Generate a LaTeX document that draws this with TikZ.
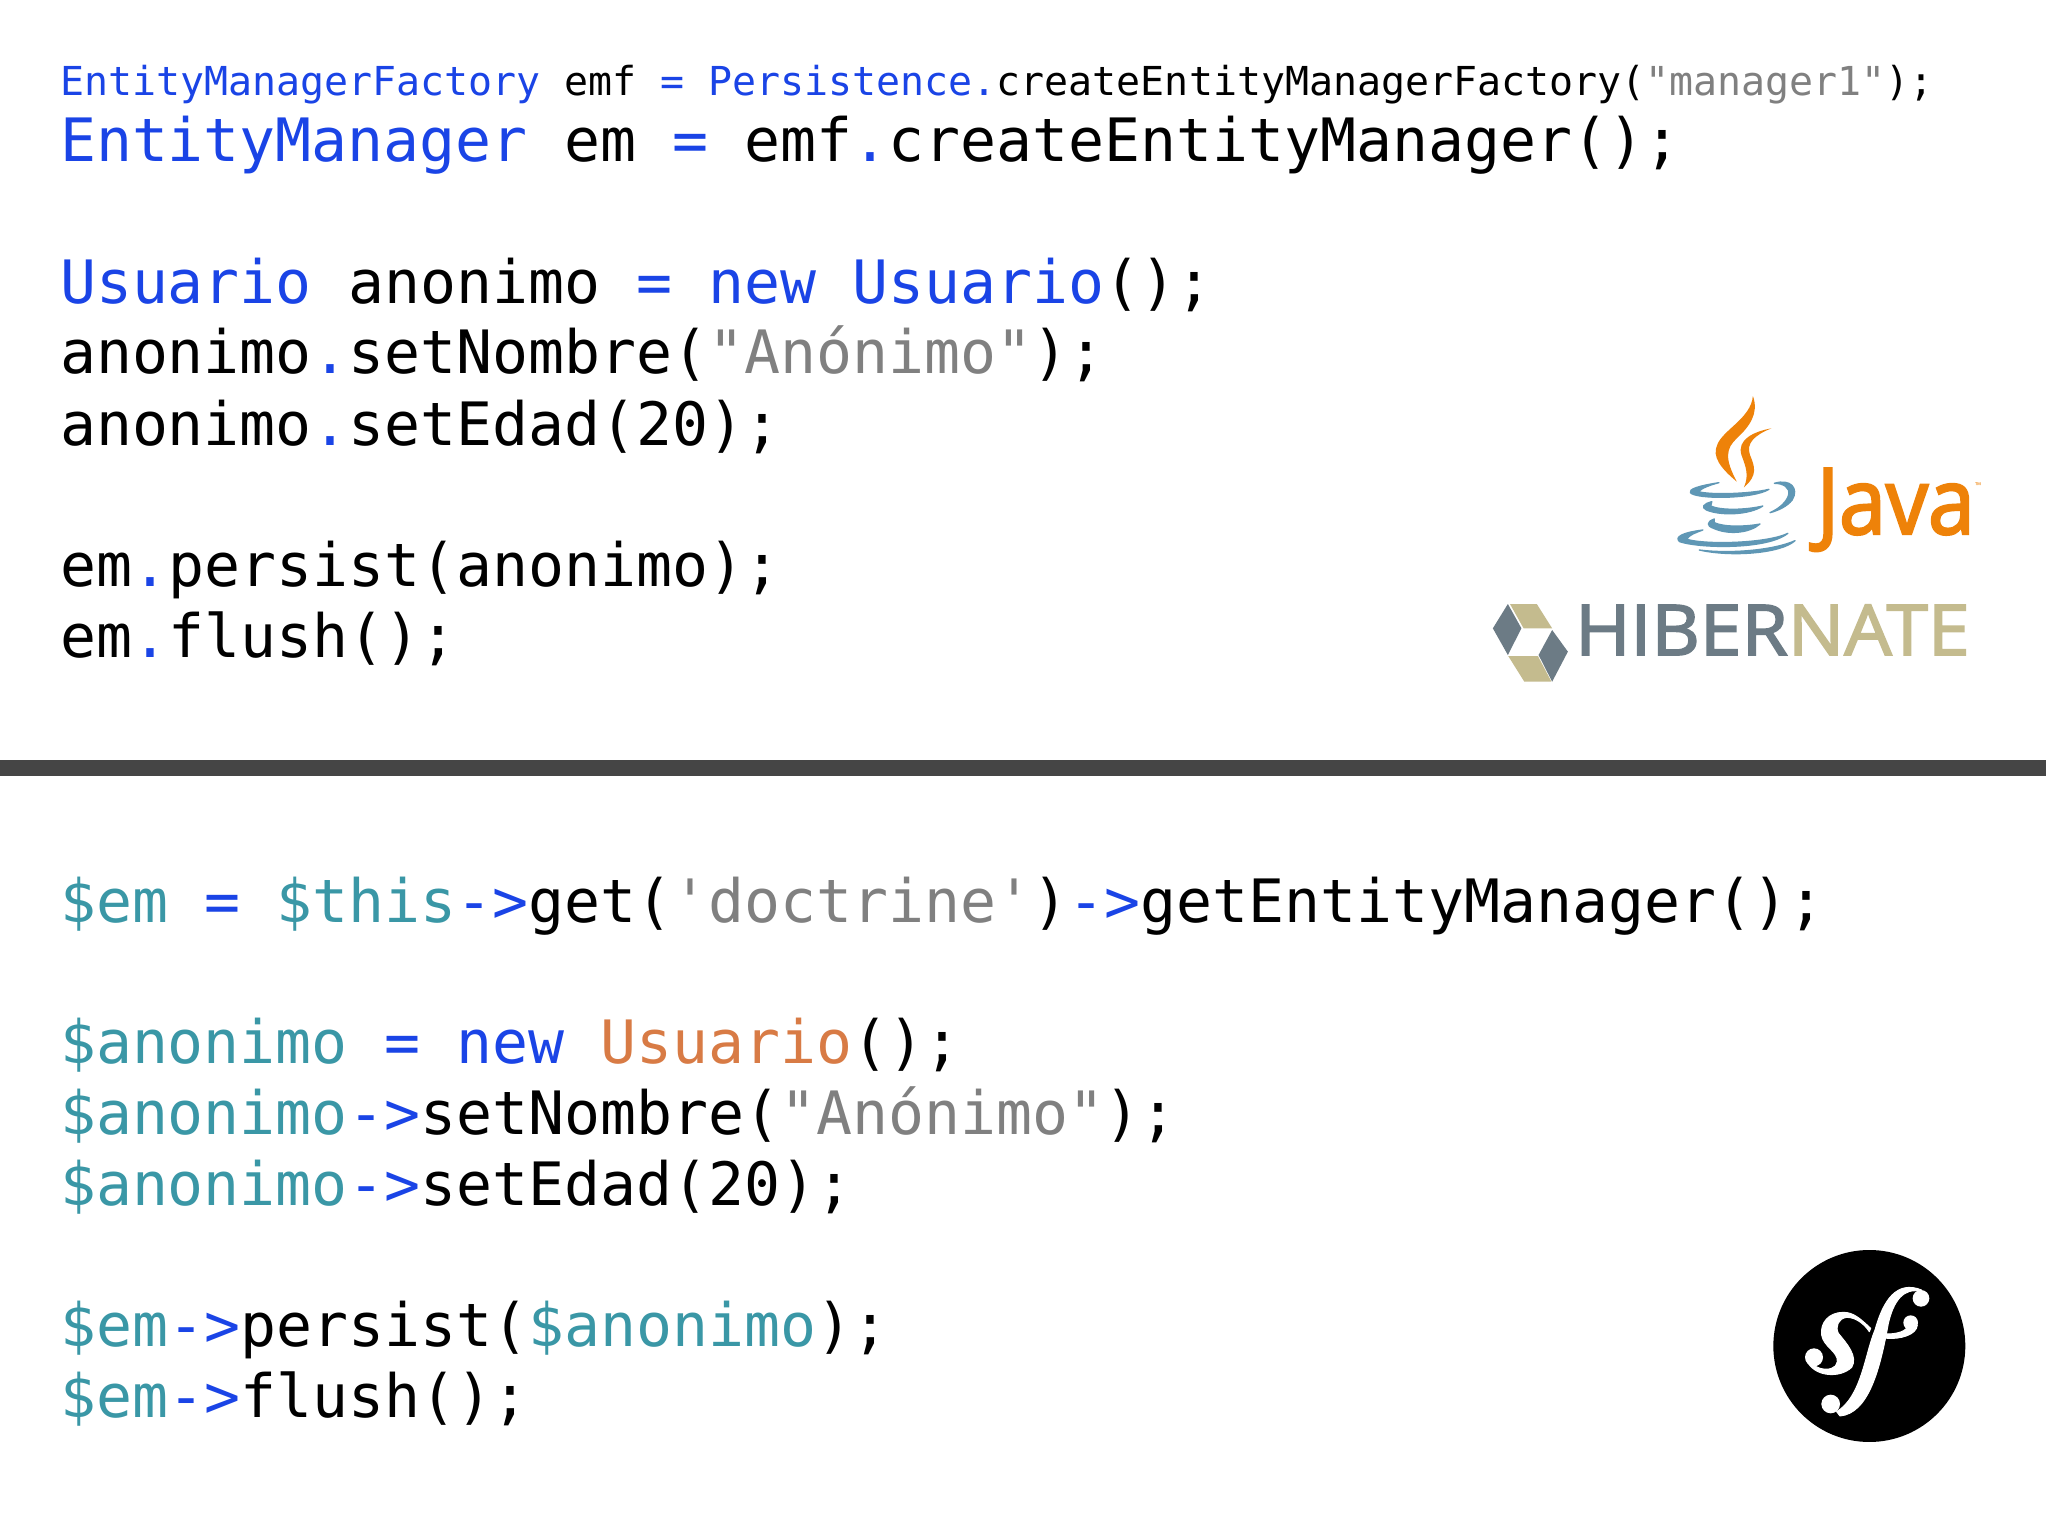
\documentclass[tikz,border=0pt]{standalone}
\usepackage{fontspec}
\setmonofont{DejaVu Sans Mono}
\newfontfamily\javafont[FakeBold=2.5,FakeStretch=.915]{Open Sans}
\newfontfamily\hibfont[FakeBold=2.5,FakeStretch=1.07]{Open Sans}
\newfontfamily\logofont{Open Sans}
\definecolor{kwblue}{HTML}{1A44E6}
\definecolor{vteal}{HTML}{3A97A6}
\definecolor{strgrey}{HTML}{808080}
\definecolor{clsor}{HTML}{D87B45}
\definecolor{barcol}{HTML}{454545}
\definecolor{javaor}{HTML}{EE8209}
\definecolor{javabl}{HTML}{5F97B5}
\definecolor{hibg}{HTML}{6C7B85}
\definecolor{hibt}{HTML}{C4BB8E}
\newcommand{\kw}[1]{\textcolor{kwblue}{#1}}
\newcommand{\vr}[1]{\textcolor{vteal}{#1}}
\newcommand{\st}[1]{\textcolor{strgrey}{#1}}
\newcommand{\cl}[1]{\textcolor{clsor}{#1}}
\tikzset{
  big/.style={anchor=base west,inner sep=0pt,outer sep=0pt,font=\ttfamily\fontsize{59.8}{60}\selectfont},
  small/.style={anchor=base west,inner sep=0pt,outer sep=0pt,font=\ttfamily\fontsize{39.9}{40}\selectfont},
  logoscale/.style={x=0.35714pt,y=-0.33333pt},
  cupband/.style={fill=javabl,draw=javabl,line width=1.3pt,line join=round},
  sfwhite/.style={fill=white,draw=white,line width=1pt,line join=round},
}
\begin{document}
\begin{tikzpicture}[x=1pt,y=-1pt]
\useasboundingbox (0,0) rectangle (2048,1536);
\fill[white] (0,0) rectangle (2048,1536);
\node[small] (l1) at (60,96) {\kw{EntityManagerFactory} emf \kw{=} \kw{Persistence.}createEntityManagerFactory(\st{"manager1"});};
\node[big] (l2) at (60,161) {\kw{EntityManager} em \kw{=} emf\kw{.}createEntityManager();};
\node[big] (l3) at (60,303) {\kw{Usuario} anonimo \kw{=} \kw{new} \kw{Usuario}();};
\node[big] (l4) at (60,373) {anonimo\kw{.}setNombre(\st{"Anónimo"});};
\node[big] (l5) at (60,445) {anonimo\kw{.}setEdad(20);};
\node[big] (l6) at (60,586) {em\kw{.}persist(anonimo);};
\node[big] (l7) at (60,657) {em\kw{.}flush();};
\fill[barcol] (0,760) rectangle (2046,776);
\node[big] (p1) at (60,922) {\vr{\$em} \kw{=} \vr{\$this}\kw{->}get(\st{'doctrine'})\kw{->}getEntityManager();};
\node[big] (p2) at (60,1063) {\vr{\$anonimo} \kw{=} \kw{new} \cl{Usuario}();};
\node[big] (p3) at (60,1134) {\vr{\$anonimo}\kw{->}setNombre(\st{"Anónimo"});};
\node[big] (p4) at (60,1205) {\vr{\$anonimo}\kw{->}setEdad(20);};
\node[big] (p5) at (60,1346) {\vr{\$em}\kw{->}persist(\vr{\$anonimo});};
\node[big] (p6) at (60,1417) {\vr{\$em}\kw{->}flush();};
% Java logo
\begin{scope}[shift={(1460pt,-380pt)},logoscale]
\fill[javaor] (820,48) .. controls (838,100) and (810,140) .. (775,175) .. controls (745,205) and (740,235) .. (775,305) .. controls (730,265) and (705,230) .. (720,195) .. controls (735,150) and (815,115) .. (820,48) -- cycle;
\fill[javaor] (872,145) .. controls (825,165) and (800,190) .. (812,225) .. controls (825,260) and (835,285) .. (795,322) .. controls (810,285) and (800,260) .. (788,225) .. controls (775,180) and (820,155) .. (872,145) -- cycle;
\path[cupband] (880,310) .. controls (925,295) and (950,325) .. (930,360) .. controls (915,380) and (890,392) .. (868,398) .. controls (895,385) and (915,365) .. (920,345) .. controls (925,322) and (905,310) .. (880,310) -- cycle;
\path[cupband] (725,308) .. controls (665,318) and (640,328) .. (645,338) .. controls (660,358) and (820,358) .. (865,328) .. controls (810,342) and (700,345) .. (668,335) .. controls (675,325) and (700,315) .. (725,308) -- cycle;
\path[cupband] (705,365) .. controls (680,372) and (675,382) .. (690,390) .. controls (730,408) and (810,405) .. (848,378) .. controls (800,390) and (730,392) .. (702,378) -- cycle;
\path[cupband] (712,417) .. controls (690,425) and (690,438) .. (710,445) .. controls (750,465) and (810,460) .. (840,432) .. controls (800,440) and (740,442) .. (712,428) -- cycle;
\path[cupband] (680,450) .. controls (620,458) and (600,472) .. (615,485) .. controls (670,505) and (860,510) .. (918,460) .. controls (860,490) and (690,495) .. (635,478) .. controls (640,465) and (660,458) .. (680,450) -- cycle;
\path[cupband] (670,510) .. controls (760,522) and (880,510) .. (938,482) .. controls (900,520) and (760,532) .. (670,510) -- cycle;
\node[anchor=base west,inner sep=0pt,text=javaor,font=\javafont\fontsize{92}{92}\selectfont] (jv) at (998,462) {Java};
\node[anchor=base west,inner sep=0pt,text=javaor,font=\logofont\fontsize{8}{8}\selectfont] (tm) at (1442,326) {™};
\end{scope}
% Hibernate logo
\begin{scope}[shift={(1460pt,-380pt)},logoscale]
\fill[hibg] (92,745) -- (134,672) -- (172,745) -- (134,825) -- cycle;
\fill[hibt] (140,672) -- (215,672) -- (258,745) -- (178,745) -- cycle;
\fill[hibg] (258,750) -- (302,815) -- (258,905) -- (220,825) -- cycle;
\fill[hibt] (135,828) -- (218,828) -- (256,905) -- (180,905) -- cycle;
\node[anchor=base west,inner sep=0pt,font=\hibfont\fontsize{70}{70}\selectfont] (hb) at (322,825) {\textcolor{hibg}{HIBER}\textcolor{hibt}{NATE}};
\end{scope}
% Symfony logo
\begin{scope}[shift={(1740pt,-1230pt)},x=0.3333pt,y=-0.3333pt]
\fill[black] (388,348) circle[radius=288];
\fill[white] (543,205) circle[radius=25];
\fill[white] (512,278) circle[radius=22];
\fill[white] (272,522) circle[radius=28];
\fill[white] (222,382) circle[radius=27];
\path[sfwhite] (545,180) .. controls (470,150) and (430,210) .. (405,300) .. controls (375,370) and (365,500) .. (290,545) -- (300,558) .. controls (385,550) and (420,420) .. (445,280) .. controls (460,215) and (490,170) .. (545,185) -- cycle;
\path[sfwhite] (392,295) .. controls (360,265) and (340,247) .. (310,247) .. controls (265,247) and (240,280) .. (245,315) .. controls (250,350) and (295,365) .. (292,395) .. controls (290,415) and (265,422) .. (240,415) -- (205,400) .. controls (230,440) and (300,445) .. (335,412) .. controls (355,380) and (320,340) .. (295,310) .. controls (285,290) and (295,265) .. (320,262) .. controls (350,262) and (375,285) .. (388,305) -- cycle;
\path[sfwhite] (440,312) .. controls (470,312) and (500,305) .. (505,285) -- (532,285) .. controls (530,315) and (480,328) .. (440,325) -- cycle;
\end{scope}
\end{tikzpicture}
\end{document}
